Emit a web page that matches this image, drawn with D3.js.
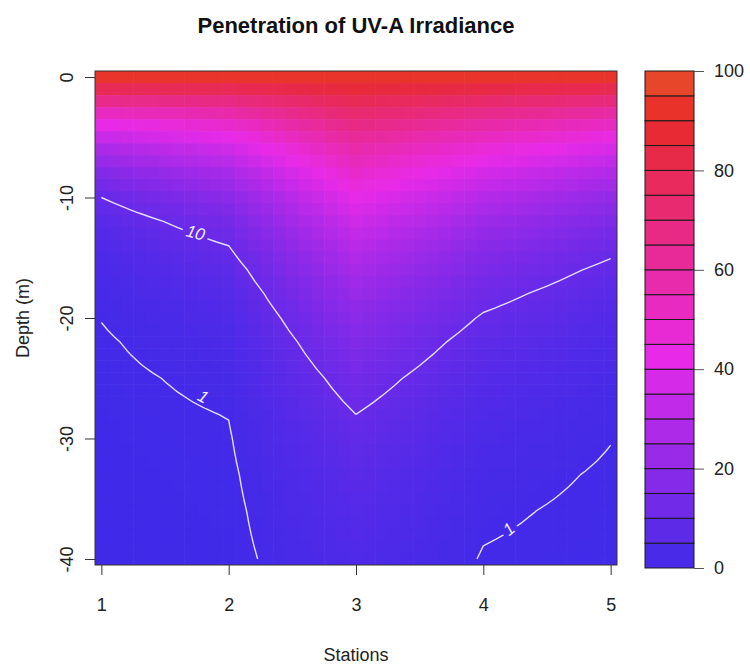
<!DOCTYPE html>
<html>
<head>
<meta charset="utf-8">
<script src="https://cdn.jsdelivr.net/npm/d3@7"></script>
<style>
  body { margin: 0; background: #fff; }
  svg { display: block; }
  text { font-family: "Liberation Sans", Arial, sans-serif; fill: #222; }
</style>
</head>
<body>
<svg id="chart" width="750" height="666"></svg>
<script>
// UV-A irradiance (% of incident) per station
const stations = [1, 2, 3, 4, 5];
const depths = [0, 1, 2, 3, 4, 5, 6, 8, 10, 12, 14, 16, 18, 20, 22, 25, 28, 30, 33, 36, 40];
const station1 = [93, 79, 66, 52, 42, 34, 27, 17, 10.0, 6.4, 4.1, 2.62, 1.68, 1.07, 0.69, 0.35, 0.18, 0.12, 0.06, 0.03, 0.01];
const station2 = [93, 79.3, 67.6, 57.7, 49.2, 41.9, 35.8, 26.0, 18.9, 13.7, 10.0, 7.27, 5.29, 3.84, 2.80, 1.73, 1.07, 0.78, 0.48, 0.30, 0.16];
const station3 = [93, 85.9, 79.3, 73.2, 67.6, 62.5, 57.7, 49.2, 42.0, 35.8, 30.5, 26.0, 22.2, 18.9, 16.1, 12.7, 10.0, 8.54, 6.72, 5.29, 3.85];
const station4 = [93, 82.9, 74.0, 66.0, 58.9, 52.5, 46.8, 37.2, 29.6, 23.6, 18.7, 14.9, 11.9, 9.44, 7.51, 5.32, 3.78, 3.00, 2.00, 1.40, 0.85];
const station5 = [93, 80.1, 69.1, 59.5, 51.3, 44.2, 38.1, 28.3, 21.0, 15.6, 11.6, 8.61, 6.40, 4.75, 3.53, 2.26, 1.45, 1.07, 0.69, 0.44, 0.24];

const contourLevels = [1, 10];
const legendBreaks = [0, 5, 10, 15, 20, 25, 30, 35, 40, 45, 50, 55, 60, 65, 70, 75, 80, 85, 90, 95, 100];
const xTicks = [1, 2, 3, 4, 5];
const yTicks = [0, -10, -20, -30, -40];
const legendTicks = [0, 20, 40, 60, 80, 100];

// where R put the contour labels
const labelSpots = [
  { level: "10", station: 1.74, depth: -12.9, angle: 14, w: 26 },
  { level: "1", station: 1.80, depth: -26.5, angle: 28, w: 16 },
  { level: "1", station: 4.20, depth: -37.5, angle: -40, w: 16 },
];

const svg = d3.select("#chart");
const plot = { left: 95, right: 617, top: 71, bottom: 565 };
const leg = { left: 645, right: 694, top: 71, bottom: 568 };

const x = d3.scaleLinear().domain([0.95, 5.05]).range([plot.left, plot.right]);
const y = d3.scaleLinear().domain([0.5, -40.5]).range([plot.top, plot.bottom]);
const ly = d3.scaleLinear().domain([0, 100]).range([leg.bottom, leg.top]);

// blue -> magenta -> red -> orange hue ramp
const hue = d3.scaleLinear().domain([2.5, 97.5]).range([250, 369]);
const colour = v => d3.hsl(hue(Math.max(0, Math.min(100, v))) % 360, 0.806, 0.537).formatHex();

// interpolate the station profiles onto a 0.1 station x 1 m grid
const profiles = [station1, station2, station3, station4, station5];
const nx = 41, ny = 41;
const gridX = d3.range(nx).map(i => 1 + i * 0.1);
const gridZ = d3.range(ny);

function profileAt(p, z) {
  const j = Math.min(d3.bisectRight(depths, z) - 1, depths.length - 2);
  const t = (z - depths[j]) / (depths[j + 1] - depths[j]);
  return p[j] + t * (p[j + 1] - p[j]);
}

const values = new Array(nx * ny);
const cells = [];
gridZ.forEach((z, r) => {
  gridX.forEach((s, c) => {
    const i = Math.min(Math.floor(s - stations[0] + 1e-9), stations.length - 2);
    const t = s - stations[i];
    const v = (1 - t) * profileAt(profiles[i], z) + t * profileAt(profiles[i + 1], z);
    values[r * nx + c] = v;
    cells.push({ s, z, v });
  });
});

const defs = svg.append("defs");
defs.append("clipPath").attr("id", "plotclip")
  .append("rect")
  .attr("x", plot.left).attr("y", plot.top)
  .attr("width", plot.right - plot.left).attr("height", plot.bottom - plot.top);

// gaps in the contour lines behind the labels
const mask = defs.append("mask").attr("id", "gaps")
  .attr("maskUnits", "userSpaceOnUse")
  .attr("x", 0).attr("y", 0).attr("width", 750).attr("height", 666);
mask.append("rect").attr("width", 750).attr("height", 666).attr("fill", "white");
labelSpots.forEach(l => {
  mask.append("rect")
    .attr("x", -l.w / 2).attr("y", -9)
    .attr("width", l.w).attr("height", 18)
    .attr("transform", `translate(${x(l.station)},${y(l.depth)}) rotate(${l.angle})`)
    .attr("fill", "black");
});

const field = svg.append("g").attr("clip-path", "url(#plotclip)");
const cw = x(1.1) - x(1), ch = y(-1) - y(0);
field.selectAll("rect")
  .data(cells)
  .join("rect")
  .attr("x", d => x(d.s - 0.05))
  .attr("y", d => y(-d.z + 0.5))
  .attr("width", cw + 0.6)
  .attr("height", ch + 0.6)
  .attr("fill", d => colour(d.v));

// contour lines (drop the pieces d3 runs along the grid border)
const contours = d3.contours().size([nx, ny]).thresholds(contourLevels)(values);
const gx = v => x(1 + (v - 0.5) * 0.1);
const gy = v => y(-(v - 0.5));
const onEdge = p => p[0] <= 0 || p[0] >= nx || p[1] <= 0 || p[1] >= ny;

const lines = svg.append("g").attr("clip-path", "url(#plotclip)")
  .append("g").attr("mask", "url(#gaps)");
contours.forEach(c => {
  let d = "";
  c.coordinates.forEach(poly => poly.forEach(ring => {
    let pen = false;
    for (let k = 1; k < ring.length; k++) {
      const a = ring[k - 1], b = ring[k];
      if (onEdge(a) || onEdge(b)) { pen = false; continue; }
      if (!pen) { d += `M${gx(a[0])},${gy(a[1])}`; pen = true; }
      d += `L${gx(b[0])},${gy(b[1])}`;
    }
  }));
  lines.append("path")
    .attr("d", d)
    .attr("fill", "none")
    .attr("stroke", "#e6ddfb")
    .attr("stroke-width", 1.4)
    .attr("stroke-linejoin", "round");
});

svg.append("g").selectAll("text")
  .data(labelSpots)
  .join("text")
  .attr("transform", d => `translate(${x(d.station)},${y(d.depth)}) rotate(${d.angle})`)
  .attr("text-anchor", "middle")
  .attr("dy", "0.36em")
  .style("font-size", "17px")
  .style("font-style", "italic")
  .style("fill", "#f1ecff")
  .text(d => d.level);

// plot box
svg.append("rect")
  .attr("x", plot.left).attr("y", plot.top)
  .attr("width", plot.right - plot.left).attr("height", plot.bottom - plot.top)
  .attr("fill", "none").attr("stroke", "#333").attr("stroke-width", 1);

// axes, R style
const xAxis = svg.append("g")
  .attr("transform", `translate(0,${plot.bottom})`)
  .call(d3.axisBottom(x).tickValues(xTicks).tickSize(10).tickPadding(23).tickFormat(d => String(d)));
const yAxis = svg.append("g")
  .attr("transform", `translate(${plot.left},0)`)
  .call(d3.axisLeft(y).tickValues(yTicks).tickSize(10).tickFormat(d => String(d)));

[xAxis, yAxis].forEach(a => {
  a.select(".domain").remove();
  a.selectAll(".tick line").attr("stroke", "#333");
  a.selectAll("text").style("font-size", "18px").style("fill", "#222").attr("font-family", null);
});
yAxis.selectAll("text")
  .attr("x", null).attr("dy", null)
  .attr("text-anchor", "middle")
  .attr("transform", "translate(-22,0) rotate(-90)");

// colour key
const legend = svg.append("g");
legend.selectAll("rect")
  .data(legendBreaks.slice(0, -1))
  .join("rect")
  .attr("x", leg.left)
  .attr("y", d => ly(d + 5))
  .attr("width", leg.right - leg.left)
  .attr("height", d => ly(d) - ly(d + 5))
  .attr("fill", d => colour(d + 2.5))
  .attr("stroke", "#1a1a1a")
  .attr("stroke-width", 1);

const lAxis = legend.append("g")
  .attr("transform", `translate(${leg.right},0)`)
  .call(d3.axisRight(ly).tickValues(legendTicks).tickSize(10).tickPadding(10).tickFormat(d => String(d)));
lAxis.select(".domain").remove();
lAxis.selectAll(".tick line").attr("stroke", "#555");
lAxis.selectAll("text").style("font-size", "18px").style("fill", "#222").attr("font-family", null);

// titles
svg.append("text")
  .attr("x", (plot.left + plot.right) / 2).attr("y", 33)
  .attr("text-anchor", "middle")
  .style("font-size", "22px").style("font-weight", "bold").style("fill", "#111")
  .text("Penetration of UV-A Irradiance");

svg.append("text")
  .attr("x", (plot.left + plot.right) / 2).attr("y", 661)
  .attr("text-anchor", "middle")
  .style("font-size", "18px")
  .text("Stations");

svg.append("text")
  .attr("transform", `translate(29,${(plot.top + plot.bottom) / 2}) rotate(-90)`)
  .attr("text-anchor", "middle")
  .style("font-size", "18px")
  .text("Depth (m)");
</script>
</body>
</html>
